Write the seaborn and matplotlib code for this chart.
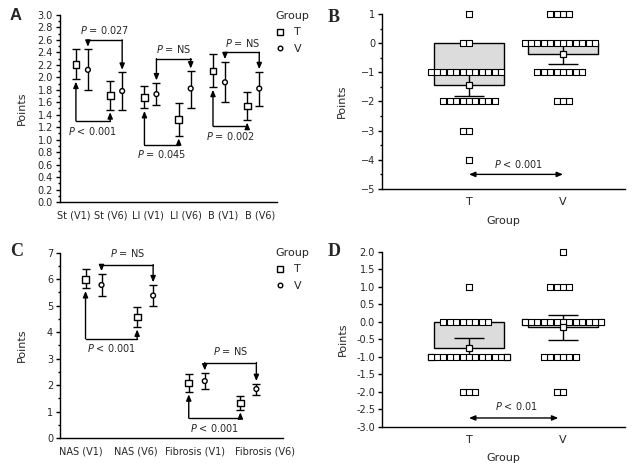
import numpy as np
import pandas as pd
import matplotlib
matplotlib.use('Agg')
import matplotlib.pyplot as plt
from matplotlib.lines import Line2D
from matplotlib.ticker import MultipleLocator, FormatStrFormatter
import seaborn as sns

# ---- panel A data (mean with lower / upper error) ----
a_cats = ['St (V1)', 'St (V6)', 'LI (V1)', 'LI (V6)', 'B (V1)', 'B (V6)']
a_t_mean = [2.21, 1.71, 1.68, 1.32, 2.10, 1.54]
a_t_lo = [1.97, 1.48, 1.50, 1.06, 1.84, 1.31]
a_t_hi = [2.45, 1.94, 1.86, 1.58, 2.37, 1.77]
a_v_mean = [2.12, 1.78, 1.73, 1.82, 1.92, 1.82]
a_v_lo = [1.80, 1.47, 1.55, 1.50, 1.60, 1.54]
a_v_hi = [2.45, 2.08, 1.91, 2.10, 2.25, 2.09]
a_t_p = ['< 0.001', '= 0.045', '= 0.002']
a_v_p = ['= 0.027', '= NS', '= NS']

# ---- panel C data ----
c_cats = ['NAS (V1)', 'NAS (V6)', 'Fibrosis (V1)', 'Fibrosis (V6)']
c_t_mean = [6.00, 4.57, 2.08, 1.32]
c_t_lo = [5.65, 4.20, 1.75, 1.07]
c_t_hi = [6.38, 4.95, 2.43, 1.60]
c_v_mean = [5.78, 5.38, 2.15, 1.85]
c_v_lo = [5.35, 5.00, 1.85, 1.62]
c_v_hi = [6.20, 5.78, 2.45, 2.05]
c_t_p = ['< 0.001', '< 0.001']
c_v_p = ['= NS', '= NS']

# ---- panel B data (individual changes) ----
b_t_levels = [1, 0, -1, -2, -3, -4]
b_t_counts = [1, 2, 12, 9, 2, 1]
b_v_levels = [1, 0, -1, -2]
b_v_counts = [4, 12, 8, 3]
b_err_lo = [-1.80, -0.72]
b_err_hi = [-1.05, 0.00]
b_p = '< 0.001'

# ---- panel D data ----
d_t_levels = [1, 0, -1, -2]
d_t_counts = [1, 8, 17, 3]
d_v_levels = [2, 1, 0, -1, -2]
d_v_counts = [1, 4, 16, 6, 2]
d_err_lo = [-0.97, -0.53]
d_err_hi = [-0.47, 0.20]
d_p = '< 0.01'

sns.set_theme(style='ticks')
plt.rcParams['font.family'] = ['DejaVu Sans']
plt.rcParams['mathtext.fontset'] = 'dejavusans'

FS = 7
arrow_kw = dict(arrowstyle='-|>,head_length=0.6,head_width=0.25', color='black',
                lw=1, shrinkA=0, shrinkB=0, mutation_scale=6)


def style_axis(ax):
    sns.despine(ax=ax)
    for s in ('left', 'bottom'):
        ax.spines[s].set_linewidth(1)
        ax.spines[s].set_color('black')
    ax.tick_params(axis='y', which='major', length=3, width=1, color='black', labelsize=FS, pad=2)
    ax.tick_params(axis='y', which='minor', length=1.5, width=1, color='black')
    ax.tick_params(axis='x', length=0, labelsize=FS, pad=6)
    ax.set_facecolor('white')


def draw_points(ax, cats, t_mean, t_lo, t_hi, v_mean, v_lo, v_hi, dodge):
    idx = np.arange(len(cats))
    df = pd.concat([
        pd.DataFrame({'pos': idx - dodge, 'mean': t_mean, 'lo': t_lo, 'hi': t_hi, 'Group': 'T'}),
        pd.DataFrame({'pos': idx + dodge, 'mean': v_mean, 'lo': v_lo, 'hi': v_hi, 'Group': 'V'}),
    ], ignore_index=True)
    ax.errorbar(df['pos'], df['mean'], yerr=[df['mean'] - df['lo'], df['hi'] - df['mean']],
                fmt='none', ecolor='black', elinewidth=1, capsize=3, capthick=1, zorder=2)
    sns.scatterplot(data=df, x='pos', y='mean', style='Group', markers={'T': 's', 'V': 'o'},
                    size='Group', sizes={'T': 24, 'V': 12}, color='white', edgecolor='black',
                    linewidth=1, legend=False, zorder=3, ax=ax)
    return df


def bracket(ax, x1, x2, level, tip1, tip2, text, offset):
    ax.plot([x1, x2], [level, level], color='black', lw=1)
    for x, tip in ((x1, tip1), (x2, tip2)):
        ax.annotate('', xy=(x, tip), xytext=(x, level), arrowprops=arrow_kw)
    ax.annotate(r'$P$ ' + text, xy=((x1 + x2) / 2, level), xytext=(0, offset),
                textcoords='offset points', ha='center', va='center', fontsize=FS)


def point_legend(ax, x, y):
    handles = [Line2D([], [], marker='s', ls='none', mfc='white', mec='black', mew=1, ms=4.5),
               Line2D([], [], marker='o', ls='none', mfc='white', mec='black', mew=1, ms=3.3)]
    leg = ax.legend(handles, ['T', 'V'], title='Group', loc='upper left', bbox_to_anchor=(x, y),
                    bbox_transform=ax.figure.transFigure, frameon=False, fontsize=FS + 1,
                    title_fontsize=FS + 1, handlelength=0.8, handletextpad=0.8,
                    labelspacing=0.6, borderpad=0.2, alignment='left')
    return leg


def draw_box(ax, t_levels, t_counts, v_levels, v_counts, err_lo, err_hi, swarm_size, mark_area):
    t_vals = np.repeat(t_levels, t_counts)
    v_vals = np.repeat(v_levels, v_counts)
    df = pd.DataFrame({'Group': ['T'] * len(t_vals) + ['V'] * len(v_vals),
                       'Points': np.concatenate([t_vals, v_vals]).astype(float)})
    sns.barplot(data=df, x='Group', y='Points', order=['T', 'V'], errorbar=None,
                color='#dcdcdc', saturation=1, edgecolor='black', linewidth=1,
                width=0.74, ax=ax, zorder=1)
    lo = np.array(err_lo)
    hi = np.array(err_hi)
    ax.errorbar([0, 1], (lo + hi) / 2, yerr=(hi - lo) / 2, fmt='none', ecolor='black',
                elinewidth=1, capsize=10.5, capthick=1, zorder=2)
    n_before = len(ax.collections)
    sns.swarmplot(data=df, x='Group', y='Points', order=['T', 'V'], marker='s',
                  color='white', edgecolor='black', linewidth=0, size=swarm_size,
                  warn_thresh=1, ax=ax, zorder=3)
    # squares drawn a bit larger than the swarm spacing so they touch
    for coll in ax.collections[n_before:]:
        coll.set_clip_on(False)
        coll.set_sizes([mark_area])
        coll.set_linewidth(0.8)
        coll.set_edgecolor('black')
    sns.pointplot(data=df, x='Group', y='Points', order=['T', 'V'], errorbar=None,
                  linestyle='none', marker='s', color='black', markerfacecolor='white',
                  markeredgewidth=0.9, markersize=4.2, ax=ax, zorder=4)
    return df


fig = plt.figure(figsize=(6.38, 4.68), dpi=100)
fig.patch.set_facecolor('white')

ax_a = fig.add_axes([0.094, 0.5684, 0.340, 0.3996])
ax_b = fig.add_axes([0.5987, 0.5962, 0.381, 0.374])
ax_c = fig.add_axes([0.094, 0.0641, 0.3495, 0.396])
ax_d = fig.add_axes([0.5987, 0.0882, 0.381, 0.374])

# ---------------- A ----------------
dodge_a = 0.175
df_a = draw_points(ax_a, a_cats, a_t_mean, a_t_lo, a_t_hi, a_v_mean, a_v_lo, a_v_hi, dodge_a)
a_t_level = [1.30, 0.92, 1.22]
a_v_level = [2.60, 2.30, 2.40]
gap_a = 0.04
for k in range(3):
    i, j = 2 * k, 2 * k + 1
    bracket(ax_a, i - dodge_a, j - dodge_a, a_t_level[k], a_t_lo[i] - gap_a, a_t_lo[j] - gap_a,
            a_t_p[k], -7)
    bracket(ax_a, i + dodge_a, j + dodge_a, a_v_level[k], a_v_hi[i] + gap_a, a_v_hi[j] + gap_a,
            a_v_p[k], 7)
ax_a.set_xlim(-0.64, 5.69)
ax_a.set_ylim(0, 3)
ax_a.yaxis.set_major_locator(MultipleLocator(0.2))
ax_a.yaxis.set_minor_locator(MultipleLocator(0.1))
ax_a.yaxis.set_major_formatter(FormatStrFormatter('%.1f'))
ax_a.set_xticks(np.arange(len(a_cats)) * 1.093 - 0.25)
ax_a.set_xticklabels(a_cats)
ax_a.set_xlabel('')
ax_a.set_ylabel('Points', fontsize=FS + 1, labelpad=8)
style_axis(ax_a)
point_legend(ax_a, 268 / 638, 1 - 3 / 468)

# ---------------- C ----------------
dodge_c = 0.155
df_c = draw_points(ax_c, c_cats, c_t_mean, c_t_lo, c_t_hi, c_v_mean, c_v_lo, c_v_hi, dodge_c)
c_t_level = [3.75, 0.75]
c_v_level = [6.55, 2.85]
gap_c = 0.1
for k in range(2):
    i, j = 2 * k, 2 * k + 1
    bracket(ax_c, i - dodge_c, j - dodge_c, c_t_level[k], c_t_lo[i] - gap_c, c_t_lo[j] - gap_c,
            c_t_p[k], -7)
    bracket(ax_c, i + dodge_c, j + dodge_c, c_v_level[k], c_v_hi[i] + gap_c, c_v_hi[j] + gap_c,
            c_v_p[k], 8)
ax_c.set_xlim(-0.65, 3.67)
ax_c.set_ylim(0, 7)
ax_c.yaxis.set_major_locator(MultipleLocator(1))
ax_c.yaxis.set_minor_locator(MultipleLocator(0.5))
ax_c.set_xticks([-0.25, 0.82, 1.97, 3.33])
ax_c.set_xticklabels(c_cats)
ax_c.set_xlabel('')
ax_c.set_ylabel('Points', fontsize=FS + 1, labelpad=14)
style_axis(ax_c)
point_legend(ax_c, 268 / 638, 1 - 240 / 468)

# ---------------- B ----------------
draw_box(ax_b, b_t_levels, b_t_counts, b_v_levels, b_v_counts, b_err_lo, b_err_hi, 3.6, 13)
ax_b.annotate('', xy=(0, -4.5), xytext=(1, -4.5),
              arrowprops=dict(arrow_kw, arrowstyle='<|-|>,head_length=0.6,head_width=0.25'))
ax_b.text(0.53, -4.15, r'$P$ ' + b_p, ha='center', va='center', fontsize=FS)
ax_b.set_xlim(-0.926, 1.66)
ax_b.set_ylim(-5, 1)
ax_b.yaxis.set_major_locator(MultipleLocator(1))
ax_b.yaxis.set_minor_locator(MultipleLocator(0.5))
ax_b.set_xlabel('Group', fontsize=FS + 1, labelpad=6)
ax_b.set_ylabel('Points', fontsize=FS + 1, labelpad=10)
style_axis(ax_b)
ax_b.tick_params(axis='x', labelsize=FS + 1)

# ---------------- D ----------------
draw_box(ax_d, d_t_levels, d_t_counts, d_v_levels, d_v_counts, d_err_lo, d_err_hi, 2.2, 13)
ax_d.annotate('', xy=(0, -2.75), xytext=(0.95, -2.75),
              arrowprops=dict(arrow_kw, arrowstyle='<|-|>,head_length=0.6,head_width=0.25'))
ax_d.text(0.5, -2.42, r'$P$ ' + d_p, ha='center', va='center', fontsize=FS)
ax_d.set_xlim(-0.926, 1.66)
ax_d.set_ylim(-3, 2)
ax_d.yaxis.set_major_locator(MultipleLocator(0.5))
ax_d.yaxis.set_major_formatter(FormatStrFormatter('%.1f'))
ax_d.set_xlabel('Group', fontsize=FS + 1, labelpad=6)
ax_d.set_ylabel('Points', fontsize=FS + 1, labelpad=6)
style_axis(ax_d)
ax_d.tick_params(axis='x', labelsize=FS + 1)

# panel letters
fig.text(10 / 638, 1 - 15 / 468, 'A', fontsize=12, fontweight='bold',
         family='Liberation Sans', va='center')
fig.text(328 / 638, 1 - 17 / 468, 'B', fontsize=13, fontweight='bold',
         family='Liberation Serif', va='center')
fig.text(10 / 638, 1 - 252 / 468, 'C', fontsize=13, fontweight='bold',
         family='Liberation Serif', va='center')
fig.text(328 / 638, 1 - 252 / 468, 'D', fontsize=13, fontweight='bold',
         family='Liberation Serif', va='center')

fig.savefig('out.png', dpi=100, facecolor='white')
